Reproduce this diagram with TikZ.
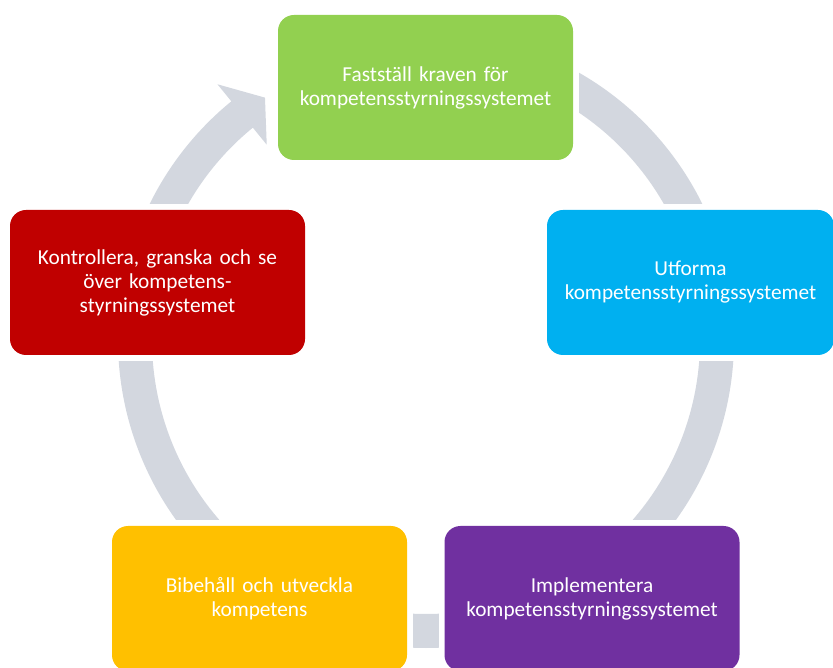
\documentclass[tikz,border=0pt]{standalone}
\usepackage{fontspec}
\setmainfont{Carlito}
\usetikzlibrary{backgrounds}
\definecolor{ringc}{RGB}{211,215,223}
\definecolor{cgreen}{RGB}{146,208,80}
\definecolor{ccyan}{RGB}{0,176,240}
\definecolor{cpurple}{RGB}{112,48,160}
\definecolor{cyellow}{RGB}{255,192,0}
\definecolor{cred}{RGB}{192,0,0}
\tikzset{
  stagebox/.style={rounded corners=16pt, minimum width=295pt, minimum height=145pt,
    inner sep=0pt, text=white, align=center, text width=285pt,
    font=\fontsize{21.3}{24}\selectfont},
  ringpart/.style={fill=ringc},
  maskbox/.style={fill=white}
}
\begin{document}
\begin{tikzpicture}[x=1pt,y=1pt]
\useasboundingbox (0,0) rectangle (833,667);
\coordinate (c) at (426,327);
\node[stagebox, fill=cgreen]  (g) at (425.5,579.5) {Fastställ kraven för\\kompetensstyrningssystemet};
\node[stagebox, fill=ccyan, minimum width=287pt] (b) at (690.5,384.5) {Utforma\\kompetensstyrningssystemet};
\node[stagebox, fill=cpurple] (p) at (592,68.5) {Implementera\\kompetensstyrningssystemet};
\node[stagebox, fill=cyellow] (y) at (259.5,68.5) {Bibehåll och utveckla\\kompetens};
\node[stagebox, fill=cred]    (r) at (157.5,384.5) {Kontrollera, granska och se\\över kompetens-\\styrningssystemet};
\begin{scope}[on background layer]
  % ring segments
  \fill[ringpart] ([shift={(65:308)}]c) arc[start angle=65,end angle=15,radius=308]
     -- ([shift={(15:274)}]c) arc[start angle=15,end angle=65,radius=274] -- cycle;
  \fill[ringpart] ([shift={(0:308)}]c) arc[start angle=0,end angle=-50,radius=308]
     -- ([shift={(-50:274)}]c) arc[start angle=-50,end angle=0,radius=274] -- cycle;
  \fill[ringpart] ([shift={(-80:308)}]c) arc[start angle=-80,end angle=-100,radius=308]
     -- ([shift={(-100:274)}]c) arc[start angle=-100,end angle=-80,radius=274] -- cycle;
  \fill[ringpart] ([shift={(175:308)}]c) arc[start angle=175,end angle=235,radius=308]
     -- ([shift={(235:274)}]c) arc[start angle=235,end angle=175,radius=274] -- cycle;
  \fill[ringpart] ([shift={(160:308)}]c) arc[start angle=160,end angle=129.2,radius=308]
     -- ([shift={(129.2:330)}]c) -- ([shift={(123.6:291)}]c) -- ([shift={(129.2:252)}]c)
     -- ([shift={(129.2:274)}]c) arc[start angle=129.2,end angle=160,radius=274] -- cycle;
  % white gaps around boxes
  \foreach \n in {g,b,p,y,r}{
    \fill[maskbox] ([shift={(-5.5,-5.5)}]\n.south west) rectangle ([shift={(5.5,5.5)}]\n.north east);
  }
\end{scope}
\end{tikzpicture}
\end{document}
